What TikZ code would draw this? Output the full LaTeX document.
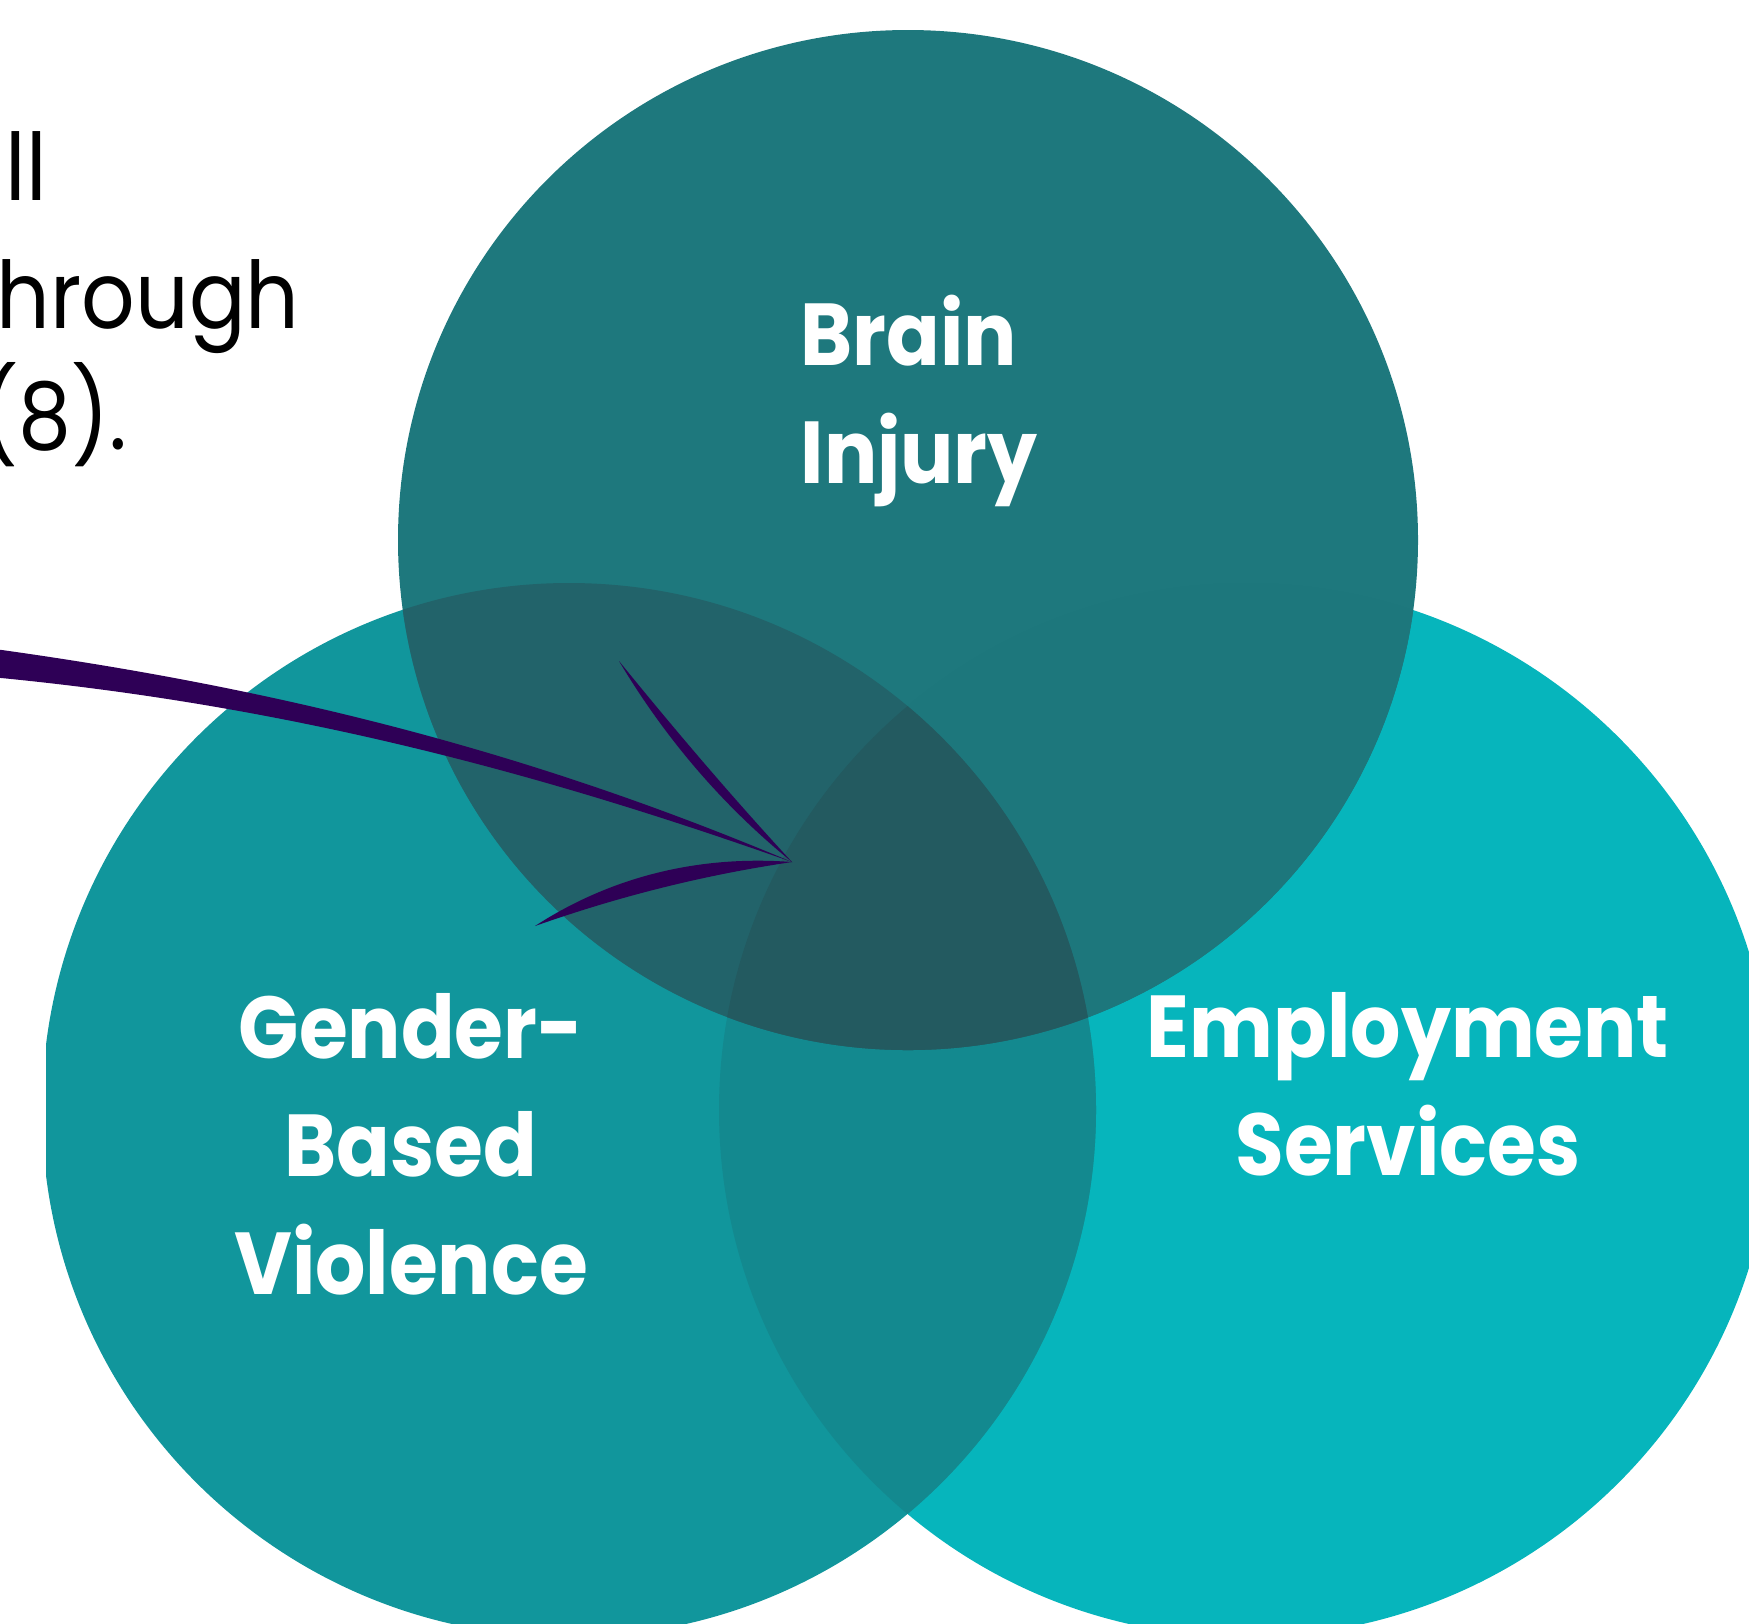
\documentclass[tikz,border=0pt]{standalone}
\usepackage{fontspec}
\setmainfont{Poppins}
\newfontfamily\narrowfont[FakeStretch=0.9]{Poppins}
\usepackage{tikz}
\definecolor{biC}{HTML}{1E787D}
\definecolor{gbC}{HTML}{11969C}
\definecolor{esC}{HTML}{06B5BC}
\definecolor{gbesC}{HTML}{13898F}
\definecolor{biesC}{HTML}{1D777C}
\definecolor{bigbC}{HTML}{22636A}
\definecolor{allC}{HTML}{235A60}
\definecolor{arrC}{HTML}{2E0056}

\begin{document}
\begin{tikzpicture}[x=0.01cm,y=-0.01cm,lb/.style={font=\narrowfont\bfseries\fontsize{25}{33.5}\selectfont,text=white,inner sep=0pt,anchor=base},txt/.style={font=\narrowfont\fontsize{26.5}{34}\selectfont,inner sep=0pt,anchor=base west},arr/.style={fill=arrC}]
\useasboundingbox (0,0) rectangle (1749,1623);
\coordinate (bi) at (908,540);
\coordinate (gb) at (569,1110);
\coordinate (es) at (1246,1110);
\begin{scope}
\clip (46,0) rectangle (1749,1623);
\fill[esC] (es) circle (527);
\fill[gbC] (gb) circle (527);
\begin{scope}
\clip (gb) circle (527);
\fill[gbesC] (es) circle (527);
\end{scope}
\fill[biC] (bi) circle (510);
\begin{scope}
\clip (bi) circle (510);
\fill[biesC] (es) circle (527);
\fill[bigbC] (gb) circle (527);
\clip (gb) circle (527);
\fill[allC] (es) circle (527);
\end{scope}
\end{scope}
\node[txt] (l1) at (5,200) {ll};
\node[txt] (l2) at (-4,328) {hrough};
\node[txt] (l3) at (-20,449) {(8).};
\node[lb,align=left,anchor=base west] (brain) at (800,483) {Brain\\Injury};
\node[lb,align=center] (gbv) at (411,1294) {Gender-\\Based\\Violence};
\node[lb,align=center] (employ) at (1408,1175) {Employment\\Services};
\fill[arr] (-20,647) .. controls (300,690) and (550,760) .. (792,862) .. controls (560,780) and (300,705) .. (-20,676) -- cycle;
\fill[arr] (619,661) .. controls (675,730) and (732,797) .. (792,862) .. controls (722,805) and (665,738) .. (619,661) -- cycle;
\fill[arr] (535,926) .. controls (612,876) and (700,855) .. (792,862) .. controls (704,875) and (620,896) .. (535,926) -- cycle;
\end{tikzpicture}
\end{document}
